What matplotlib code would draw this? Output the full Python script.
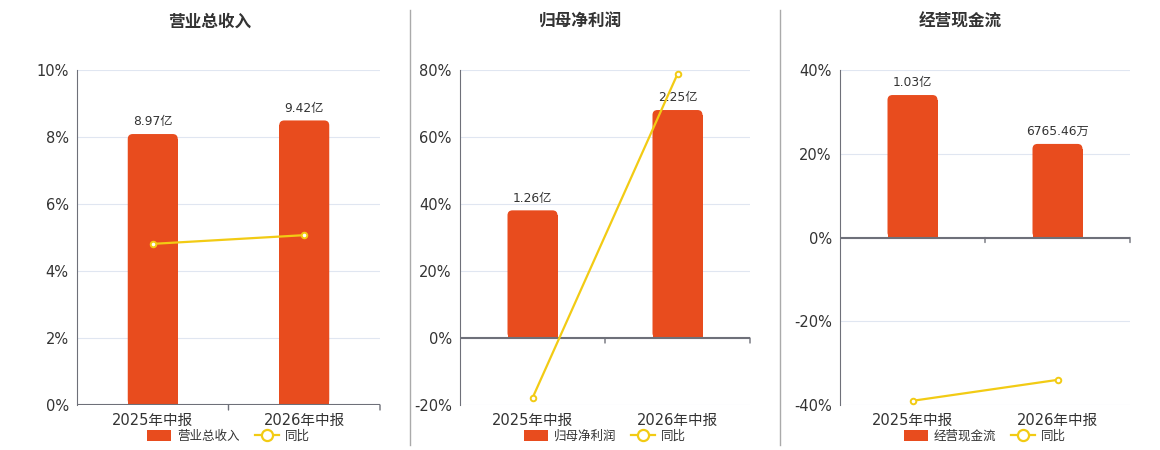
import matplotlib.pyplot as plt
from matplotlib.lines import Line2D
from matplotlib.patches import Patch, FancyBboxPatch

plt.rcParams['font.family'] = ['DejaVu Sans', 'Noto Sans CJK SC']

# ---- data ----
periods = ["2025年中报", "2026年中报"]

titles = ["营业总收入", "归母净利润", "经营现金流"]
bar_names = ["营业总收入", "归母净利润", "经营现金流"]

# amounts in 亿
revenue = [8.97, 9.42]
net_profit = [1.26, 2.25]
cash_flow = [1.03, 0.676546]

revenue_labels = ["8.97亿", "9.42亿"]
net_profit_labels = ["1.26亿", "2.25亿"]
cash_flow_labels = ["1.03亿", "6765.46万"]

# year-over-year growth, %
revenue_yoy = [4.81, 5.07]
net_profit_yoy = [-17.9, 78.8]
cash_flow_yoy = [-39.0, -34.0]

amounts = [revenue, net_profit, cash_flow]
amount_labels = [revenue_labels, net_profit_labels, cash_flow_labels]
yoys = [revenue_yoy, net_profit_yoy, cash_flow_yoy]

# axis setup per panel
pct_limits = [(0, 10), (-20, 80), (-40, 40)]
pct_ticks = [range(0, 11, 2), range(-20, 81, 20), range(-40, 41, 20)]
amt_limits = [(0, 11.09), (-0.661, 2.645), (-1.211, 1.211)]
axes_left_px = [77, 460, 840]
axes_width_px = [303, 290, 290]
title_x_px = [210, 580, 960]
AX_H_PX = 335
BAR_PX = 50
CORNER_PX = 5

BAR_COLOR = "#e84c1e"
LINE_COLOR = "#f2cb14"
AXIS_COLOR = "#6e7079"
GRID_COLOR = "#e0e6f1"
TEXT_COLOR = "#333333"

W, H = 1160, 450
fig = plt.figure(figsize=(W / 100, H / 100), dpi=100)

for i in range(3):
    # percent axis (background, grid, ticks)
    ax = fig.add_axes([axes_left_px[i] / W, 45 / H, axes_width_px[i] / W, AX_H_PX / H])
    # amount axis on top (bars + line)
    ax2 = ax.twinx()
    ax2.set_zorder(ax.get_zorder() + 1)
    ax2.patch.set_visible(False)

    x = range(len(periods))
    ax.set_xlim(-0.5, 1.5)
    ax.set_ylim(*pct_limits[i])
    ax2.set_ylim(*amt_limits[i])

    # bars with rounded top corners
    x_per_px = 2.0 / axes_width_px[i]
    y_per_px = (amt_limits[i][1] - amt_limits[i][0]) / AX_H_PX
    r_x = CORNER_PX * x_per_px
    r_y = CORNER_PX * y_per_px
    bars = ax2.bar(x, amounts[i], width=BAR_PX * x_per_px, color=BAR_COLOR, zorder=2)
    for rect in bars:
        bx, by = rect.get_x(), rect.get_y()
        bw, bh = rect.get_width(), rect.get_height()
        ax2.add_patch(FancyBboxPatch((bx, by), bw, bh,
                                     boxstyle=f"round,pad=0,rounding_size={r_x}",
                                     mutation_aspect=r_y / r_x,
                                     fc=BAR_COLOR, ec="none", zorder=2))
        rect.set_height(bh - r_y)
    ax2.axis("off")
    for xi, v, lab in zip(x, amounts[i], amount_labels[i]):
        ax2.annotate(lab, (xi, v), xytext=(0, 4), textcoords="offset points",
                     ha="center", va="bottom", fontsize=8.8, color=TEXT_COLOR)

    ax2.axhline(0, color=AXIS_COLOR, lw=1.5, zorder=3)
    for xb in [0.5, 1.5]:
        ax2.annotate("", xy=(xb, 0), xytext=(0, -5), textcoords="offset pixels",
                     arrowprops=dict(arrowstyle="-", color=AXIS_COLOR, lw=1,
                                     shrinkA=0, shrinkB=0))

    # yoy line drawn in the percent axis' data coordinates
    ax2.plot(x, yoys[i], transform=ax.transData, color=LINE_COLOR, lw=1.6,
             marker="o", ms=4, mfc="white", mec=LINE_COLOR, mew=1.4, zorder=5)

    ax.set_yticks(list(pct_ticks[i]))
    ax.set_yticklabels([f"{t}%" for t in pct_ticks[i]])
    ax.set_xticks(list(x))
    ax.set_xticklabels(periods)
    ax.tick_params(axis="x", length=0, labelsize=10.5, colors=TEXT_COLOR, pad=6)
    ax.tick_params(axis="y", length=0, labelsize=10.5, colors=TEXT_COLOR, pad=6)
    ax.grid(axis="y", color=GRID_COLOR, lw=0.8)
    ax.set_axisbelow(True)
    for s in ["top", "right", "bottom"]:
        ax.spines[s].set_visible(False)
    ax.spines["left"].set_color(AXIS_COLOR)

    handles = [Patch(facecolor=BAR_COLOR, edgecolor="none"),
               Line2D([0], [0], color=LINE_COLOR, lw=1.6, marker="o", ms=8,
                      mfc="white", mec=LINE_COLOR, mew=1.6)]
    ax.legend(handles, [bar_names[i], "同比"], loc="center",
              bbox_to_anchor=(0.5, -0.093), ncol=2, frameon=False,
              fontsize=9, handlelength=1.9, handleheight=1.05,
              columnspacing=1.2, handletextpad=0.5, labelcolor=TEXT_COLOR)

    fig.text(title_x_px[i] / W, 1 - 22 / H, titles[i], ha="center", va="center",
             fontsize=12, fontweight="bold", color=TEXT_COLOR)

# vertical separators between panels
for xs in [410, 780]:
    fig.add_artist(Line2D([xs / W, xs / W], [5 / H, 1 - 10 / H],
                          color="#aaaaaa", lw=1))

fig.savefig("out.png", dpi=100)
